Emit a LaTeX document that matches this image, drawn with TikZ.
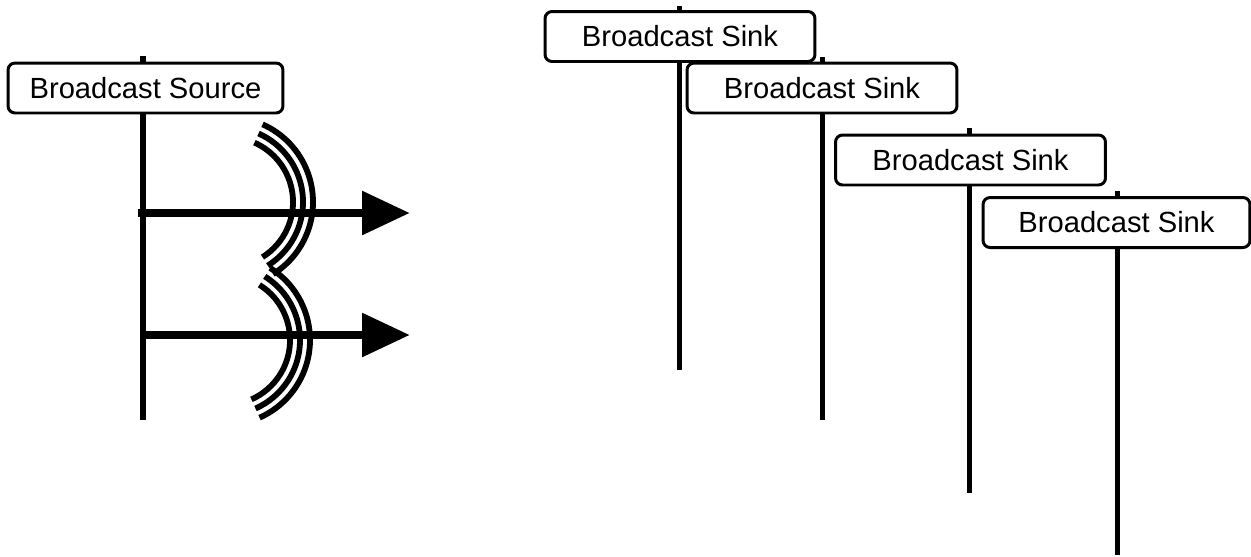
\documentclass[tikz,border=0pt]{standalone}
\usepackage{fontspec}
\setmainfont{Liberation Sans}
\usetikzlibrary{arrows.meta, positioning}
\tikzset{
  lifeline/.style={black, line width=2.85pt},
  sendarrow/.style={-{Triangle[length=0.96cm, width=0.84cm]}, black, line width=5.1pt},
  wave/.style={black, line width=3.3pt},
  tagbox/.style={rectangle, rounded corners=4pt, draw=black, fill=white, line width=1.7pt,
                 align=center, font=\fontsize{16.6}{20}\selectfont, inner sep=0pt,
                 minimum width=5.4cm, minimum height=1cm},
}
\begin{document}
\begin{tikzpicture}[x=0.02cm, y=-0.02cm]
    \useasboundingbox (0,0) rectangle (1251,556);
    \coordinate (srcTop) at (143,56);   \coordinate (srcEnd) at (143,420);
    \coordinate (sinkATop) at (679,6);   \coordinate (sinkAEnd) at (679,370);
    \coordinate (sinkBTop) at (822,57);  \coordinate (sinkBEnd) at (822,420);
    \coordinate (sinkCTop) at (969,128); \coordinate (sinkCEnd) at (969,493);
    \coordinate (sinkDTop) at (1117,191); \coordinate (sinkDEnd) at (1117,555);
    \draw[lifeline] (srcTop)--(srcEnd);
    \draw[lifeline] (sinkATop)--(sinkAEnd); \draw[lifeline] (sinkBTop)--(sinkBEnd);
    \draw[lifeline] (sinkCTop)--(sinkCEnd); \draw[lifeline] (sinkDTop)--(sinkDEnd);
    \coordinate (waveA) at (228,202); \coordinate (waveB) at (225,340);
    \foreach \r in {65,75,85} {
      \draw[wave] (waveA) ++(-66:\r) arc[start angle=-66, end angle=58, radius=\r];
      \draw[wave] (waveB) ++(-58:\r) arc[start angle=-58, end angle=66, radius=\r];
    }
    \coordinate (sendA) at (138,213); \coordinate (tipA) at (410,213);
    \coordinate (sendB) at (143,335); \coordinate (tipB) at (410,335);
    \draw[sendarrow] (sendA)--(tipA); \draw[sendarrow] (sendB)--(tipB);
    \node[tagbox, minimum width=5.5cm] (src) at (145.5,88) {Broadcast Source};
    \node[tagbox] (sinkA) at (680,36.5) {Broadcast Sink};
    \node[tagbox] (sinkB) at (822,88) {Broadcast Sink};
    \node[tagbox] (sinkC) at (970.5,160) {Broadcast Sink};
    \node[tagbox, minimum width=5.34cm] (sinkD) at (1116.5,222.5) {Broadcast Sink};
  \end{tikzpicture}
\end{document}
